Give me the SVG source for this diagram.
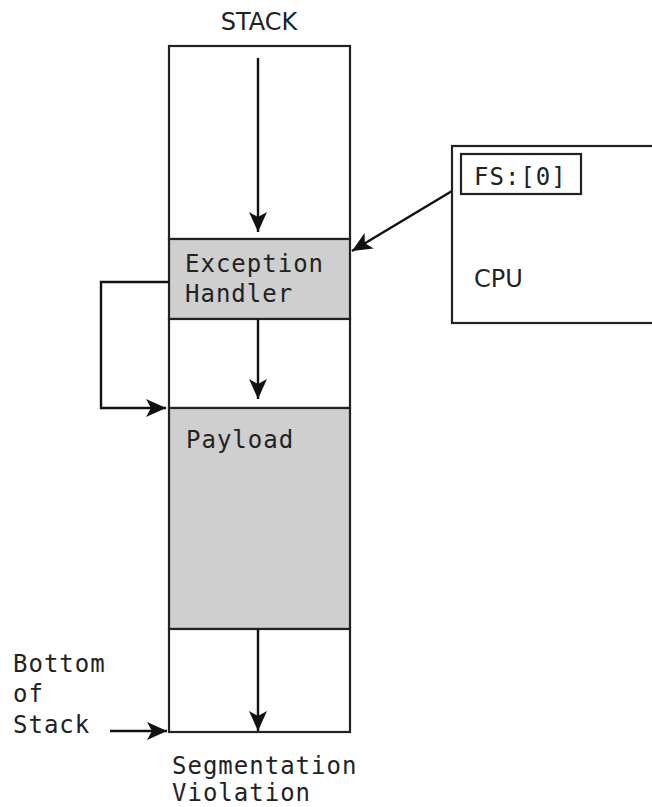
<svg xmlns="http://www.w3.org/2000/svg" width="652" height="807" viewBox="0 0 652 807">
<style>
.box{fill:#fff;stroke:#222;stroke-width:2.2}
.gray{fill:#cfcfcf;stroke:#222;stroke-width:2.2}
.line{fill:none;stroke:#111;stroke-width:2.4}
.mono{font-family:"DejaVu Sans Mono","Liberation Mono",monospace;font-size:24px;letter-spacing:1px;fill:#222}
.sans{font-family:"DejaVu Sans","Liberation Sans",sans-serif;font-size:24px;fill:#222}
</style>
<defs>
<marker id="ah" markerUnits="userSpaceOnUse" markerWidth="24" markerHeight="22" refX="20" refY="9" orient="auto">
<path d="M0,0 L20,9 L0,18 L5,9 z" fill="#111"/>
</marker>
</defs>
<rect width="652" height="807" fill="#fff"/>
<g id="stack-label"><text class="sans" x="259" y="30" text-anchor="middle">STACK</text></g>
<g id="stack-top"><rect class="box" x="169" y="46" width="181" height="193"/></g>
<g id="exception-handler"><rect class="gray" x="169" y="239" width="181" height="80"/>
<text class="mono" x="185" y="272">Exception</text>
<text class="mono" x="185" y="302">Handler</text></g>
<g id="gap"><rect class="box" x="169" y="319" width="181" height="89"/></g>
<g id="payload"><rect class="gray" x="169" y="408" width="181" height="221"/>
<text class="mono" x="186" y="448">Payload</text></g>
<g id="stack-bottom"><rect class="box" x="169" y="629" width="181" height="103"/></g>
<g id="cpu"><rect class="box" x="452" y="146" width="215" height="177"/>
<rect class="box" x="461" y="154" width="120" height="40"/>
<text class="mono" x="474" y="185">FS:[0]</text>
<text class="sans" x="474" y="287">CPU</text></g>
<g id="bottom-label"><text class="mono" x="13" y="672">Bottom</text>
<text class="mono" x="13" y="702">of</text>
<text class="mono" x="13" y="733">Stack</text></g>
<g id="segv-label"><text class="mono" x="172" y="774">Segmentation</text>
<text class="mono" x="172" y="801">Violation</text></g>
<g id="connectors">
<line class="line" x1="258" y1="58" x2="258" y2="232" marker-end="url(#ah)"/>
<line class="line" x1="258" y1="319" x2="258" y2="399" marker-end="url(#ah)"/>
<line class="line" x1="258" y1="629" x2="258" y2="731" marker-end="url(#ah)"/>
<path class="line" d="M169,282 H101 V408 H166" marker-end="url(#ah)"/>
<line class="line" x1="452" y1="191" x2="352" y2="251" marker-end="url(#ah)"/>
<line class="line" x1="110" y1="731" x2="167" y2="731" marker-end="url(#ah)"/>
</g>
</svg>
